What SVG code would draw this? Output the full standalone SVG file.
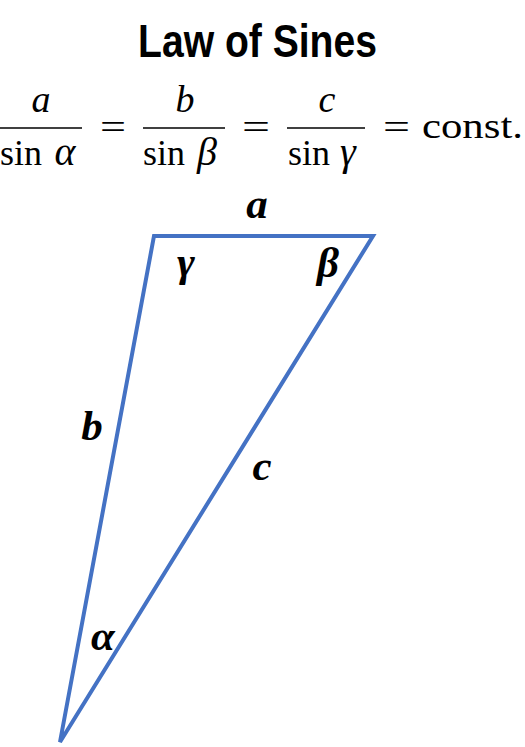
<svg xmlns="http://www.w3.org/2000/svg" width="525" height="747" viewBox="0 0 525 747">
<style>
.title{font-family:"Liberation Sans",Arial,sans-serif;font-weight:bold;font-size:47px;fill:#000}
.m{font-family:"Liberation Serif","Times New Roman",serif;font-size:36px;fill:#000}
.mi{font-family:"Liberation Serif","Times New Roman",serif;font-size:38px;font-style:italic;fill:#000}
.g{font-family:"Liberation Serif","Times New Roman",serif;font-size:40px;font-style:italic;fill:#000}
.bar{stroke:#000;stroke-width:1.6}
.lbl{font-family:"Liberation Serif","Times New Roman",serif;font-size:43px;font-style:italic;font-weight:bold;fill:#000}
.edge{fill:none;stroke:#4472C4;stroke-width:4;stroke-linejoin:miter}
</style>
<rect width="525" height="747" fill="#fff"/>
<text class="title" x="257.5" y="57" text-anchor="middle" textLength="239" lengthAdjust="spacingAndGlyphs">Law of Sines</text>
<g id="formula">
<text class="mi" x="41" y="112" text-anchor="middle">a</text>
<line class="bar" x1="0" y1="128" x2="82" y2="128"/>
<text class="m" x="0" y="165" textLength="42" lengthAdjust="spacingAndGlyphs">sin</text>
<text class="g" x="65" y="165" text-anchor="middle">α</text>
<text class="m" x="100" y="139" textLength="26" lengthAdjust="spacingAndGlyphs">=</text>
<text class="mi" x="185" y="112" text-anchor="middle">b</text>
<line class="bar" x1="143" y1="128" x2="225" y2="128"/>
<text class="m" x="143" y="165" textLength="42" lengthAdjust="spacingAndGlyphs">sin</text>
<text class="g" x="207" y="165" text-anchor="middle">β</text>
<text class="m" x="242" y="139" textLength="28" lengthAdjust="spacingAndGlyphs">=</text>
<text class="mi" x="327" y="112" text-anchor="middle">c</text>
<line class="bar" x1="287" y1="128" x2="365" y2="128"/>
<text class="m" x="288" y="165" textLength="42" lengthAdjust="spacingAndGlyphs">sin</text>
<text class="g" x="348" y="165" text-anchor="middle">γ</text>
<text class="m" x="383" y="139" textLength="27" lengthAdjust="spacingAndGlyphs">=</text>
<text class="m" x="422" y="138" textLength="101" lengthAdjust="spacingAndGlyphs">const.</text>
</g>
<g id="connectors">
<polygon id="triangle" class="edge" points="154,236 373,236 60,742"/>
</g>
<g id="labels">
<text id="lbl-a" class="lbl" x="257" y="218" text-anchor="middle">a</text>
<text id="lbl-gamma" class="lbl" x="186" y="276" text-anchor="middle">γ</text>
<text id="lbl-beta" class="lbl" x="328" y="277" text-anchor="middle">β</text>
<text id="lbl-b" class="lbl" x="92" y="440" text-anchor="middle">b</text>
<text id="lbl-c" class="lbl" x="262" y="480" text-anchor="middle">c</text>
<text id="lbl-alpha" class="lbl" x="103" y="650" text-anchor="middle">α</text>
</g>
</svg>
